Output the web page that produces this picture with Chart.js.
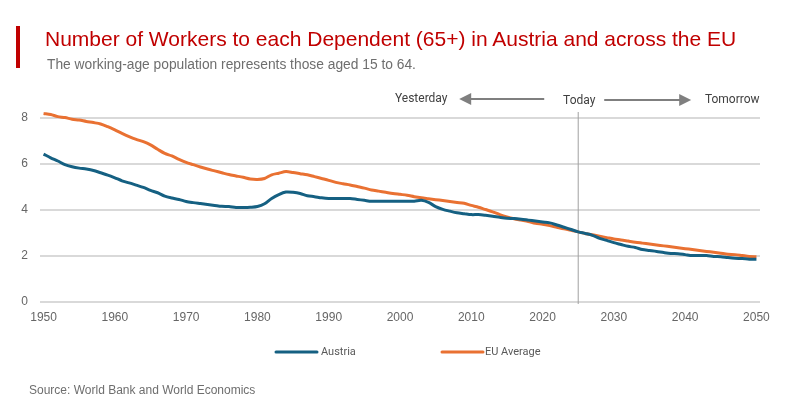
<!DOCTYPE html>
<html>
<head>
<meta charset="utf-8">
<script src="https://cdn.jsdelivr.net/npm/chart.js@4"></script>
<style>
  body { margin: 0; background: #fff; width: 800px; height: 400px; position: relative; overflow: hidden; font-family: "Liberation Sans", sans-serif; }
  #mychart { position: absolute; left: 0; top: 0; }
  #bar { position: absolute; left: 16px; top: 26px; width: 4px; height: 42px; background: #c00000; }
  #title { position: absolute; left: 45px; top: 26px; font-size: 21px; line-height: 26px; color: #c00000; white-space: nowrap; }
  #subtitle { position: absolute; left: 47px; top: 56px; font-size: 13.8px; line-height: 18px; color: #6e6e6e; white-space: nowrap; }
  #source { position: absolute; left: 29px; top: 382px; font-size: 12px; line-height: 16px; color: #6e6e6e; white-space: nowrap; }
</style>
</head>
<body>
<canvas id="mychart" width="800" height="400"></canvas>
<div id="bar"></div>
<div id="title">Number of Workers to each Dependent (65+) in Austria and across the EU</div>
<div id="subtitle">The working-age population represents those aged 15 to 64.</div>
<div id="source">Source: World Bank and World Economics</div>
<script>
'use strict'

const years = [
  1950, 1951, 1952, 1953, 1954, 1955, 1956, 1957, 1958, 1959,
  1960, 1961, 1962, 1963, 1964, 1965, 1966, 1967, 1968, 1969,
  1970, 1971, 1972, 1973, 1974, 1975, 1976, 1977, 1978, 1979,
  1980, 1981, 1982, 1983, 1984, 1985, 1986, 1987, 1988, 1989,
  1990, 1991, 1992, 1993, 1994, 1995, 1996, 1997, 1998, 1999,
  2000, 2001, 2002, 2003, 2004, 2005, 2006, 2007, 2008, 2009,
  2010, 2011, 2012, 2013, 2014, 2015, 2016, 2017, 2018, 2019,
  2020, 2021, 2022, 2023, 2024, 2025, 2026, 2027, 2028, 2029,
  2030, 2031, 2032, 2033, 2034, 2035, 2036, 2037, 2038, 2039,
  2040, 2041, 2042, 2043, 2044, 2045, 2046, 2047, 2048, 2049,
  2050];

const austria = [
  6.43, 6.27, 6.13, 5.97, 5.88, 5.82, 5.78, 5.72, 5.62, 5.52,
  5.40, 5.27, 5.18, 5.08, 4.98, 4.85, 4.75, 4.60, 4.52, 4.46,
  4.37, 4.32, 4.28, 4.24, 4.20, 4.16, 4.15, 4.11, 4.11, 4.12,
  4.15, 4.27, 4.50, 4.67, 4.78, 4.77, 4.72, 4.62, 4.58, 4.53,
  4.50, 4.50, 4.50, 4.50, 4.46, 4.42, 4.38, 4.38, 4.38, 4.38,
  4.38, 4.38, 4.38, 4.42, 4.33, 4.15, 4.03, 3.95, 3.88, 3.84,
  3.80, 3.80, 3.77, 3.73, 3.68, 3.64, 3.63, 3.60, 3.56, 3.52,
  3.48, 3.44, 3.35, 3.25, 3.15, 3.05, 2.98, 2.90, 2.77, 2.68,
  2.58, 2.50, 2.42, 2.37, 2.28, 2.24, 2.20, 2.15, 2.11, 2.10,
  2.06, 2.02, 2.02, 2.02, 1.98, 1.97, 1.93, 1.90, 1.89, 1.86,
  1.86];

const euAverage = [
  8.20, 8.15, 8.06, 8.02, 7.95, 7.91, 7.85, 7.80, 7.74, 7.62,
  7.48, 7.33, 7.19, 7.07, 6.97, 6.83, 6.64, 6.46, 6.35, 6.20,
  6.07, 5.97, 5.87, 5.78, 5.70, 5.62, 5.54, 5.48, 5.42, 5.35,
  5.33, 5.37, 5.53, 5.60, 5.67, 5.63, 5.58, 5.53, 5.45, 5.37,
  5.29, 5.20, 5.14, 5.09, 5.02, 4.95, 4.87, 4.82, 4.77, 4.72,
  4.68, 4.64, 4.58, 4.53, 4.49, 4.45, 4.41, 4.37, 4.33, 4.29,
  4.20, 4.12, 4.02, 3.92, 3.80, 3.70, 3.62, 3.56, 3.50, 3.42,
  3.38, 3.32, 3.25, 3.18, 3.12, 3.05, 2.98, 2.92, 2.86, 2.80,
  2.74, 2.70, 2.65, 2.60, 2.56, 2.52, 2.48, 2.44, 2.40, 2.36,
  2.32, 2.28, 2.24, 2.20, 2.16, 2.12, 2.08, 2.06, 2.02, 1.98,
  1.97];

const xTickYears = [1950, 1960, 1970, 1980, 1990, 2000, 2010, 2020, 2030, 2040, 2050];
const todayYear = 2025;

const annoFont = '12px Roboto';
const legendFont = '11px Roboto';
const annoColor = '#404040';
const arrowColor = '#7f7f7f';

// arrow with a filled head, from (x1,y) to (x2,y)
function drawArrow(c, x1, x2, y) {
  const dir = x2 > x1 ? 1 : -1;
  c.strokeStyle = arrowColor;
  c.fillStyle = arrowColor;
  c.lineWidth = 2;
  c.beginPath();
  c.moveTo(x1, y);
  c.lineTo(x2 - dir * 10, y);
  c.stroke();
  c.beginPath();
  c.moveTo(x2, y);
  c.lineTo(x2 - dir * 12, y - 6);
  c.lineTo(x2 - dir * 12, y + 6);
  c.closePath();
  c.fill();
}

// vertical "today" line goes under the series
const todayLine = {
  id: 'todayLine',
  beforeDatasetsDraw(chart) {
    const c = chart.ctx;
    const x = chart.scales.x.getPixelForValue(years.indexOf(todayYear));
    c.save();
    c.strokeStyle = '#a0a0a0';
    c.lineWidth = 1;
    c.beginPath();
    c.moveTo(x, 112);
    c.lineTo(x, chart.scales.y.getPixelForValue(0) + 2);
    c.stroke();
    c.restore();
  },
};

// Yesterday / Today / Tomorrow labels with arrows, and the legend
const annotations = {
  id: 'annotations',
  afterDraw(chart) {
    const c = chart.ctx;
    const x = chart.scales.x.getPixelForValue(years.indexOf(todayYear));
    c.save();
    c.font = annoFont;
    c.fillStyle = annoColor;
    c.textAlign = 'center';
    c.textBaseline = 'middle';
    c.fillText('Yesterday', x - 157, 99);
    c.fillText('Today', x + 1, 101);
    c.fillText('Tomorrow', x + 154, 100);
    drawArrow(c, x - 34, x - 119, 99);
    drawArrow(c, x + 26, x + 113, 100);

    // legend
    const legendX = [275, 441];
    const legendTextX = [321, 485];
    c.font = legendFont;
    chart.data.datasets.forEach((ds, i) => {
      c.strokeStyle = ds.borderColor;
      c.lineWidth = 3;
      c.lineCap = 'round';
      c.beginPath();
      c.moveTo(legendX[i] + 1, 352);
      c.lineTo(legendX[i] + 42, 352);
      c.stroke();
      c.fillStyle = '#595959';
      c.textAlign = 'left';
      c.fillText(ds.label, legendTextX[i], 352);
    });
    c.restore();
  },
};

const ctx = document.getElementById('mychart');

const myChart = new Chart(ctx, {
  type: 'line',
  data: {
    labels: years,
    datasets: [
      { label: 'Austria', data: austria, borderColor: '#156082', borderWidth: 3, pointRadius: 0, tension: 0.3 },
      { label: 'EU Average', data: euAverage, borderColor: '#e97132', borderWidth: 3, pointRadius: 0, tension: 0.3 },
    ],
  },
  plugins: [todayLine, annotations],
  options: {
    responsive: false,
    animation: false,
    devicePixelRatio: 1,
    layout: { padding: { top: 95, right: 40, left: 0, bottom: 68 } },
    plugins: { legend: { display: false }, tooltip: { enabled: false } },
    scales: {
      x: {
        type: 'category',
        offset: true,
        afterFit(scale) { scale.height = 30; },
        grid: { display: false },
        border: { display: false },
        ticks: {
          autoSkip: false,
          maxRotation: 0,
          padding: 0,
          color: '#666666',
          font: { family: '"Liberation Sans"', size: 12 },
          callback(value) {
            const y = years[value];
            return xTickYears.includes(y) ? String(y) : '';
          },
        },
      },
      y: {
        min: 0,
        max: 9,
        afterFit(scale) { scale.width = 40; },
        grid: { color: '#d9d9d9', lineWidth: 2, drawTicks: false },
        border: { display: false },
        ticks: {
          stepSize: 2,
          includeBounds: false,
          padding: 12,
          color: '#666666',
          font: { family: '"Liberation Sans"', size: 12 },
        },
      },
    },
  },
});
</script>
</body>
</html>
